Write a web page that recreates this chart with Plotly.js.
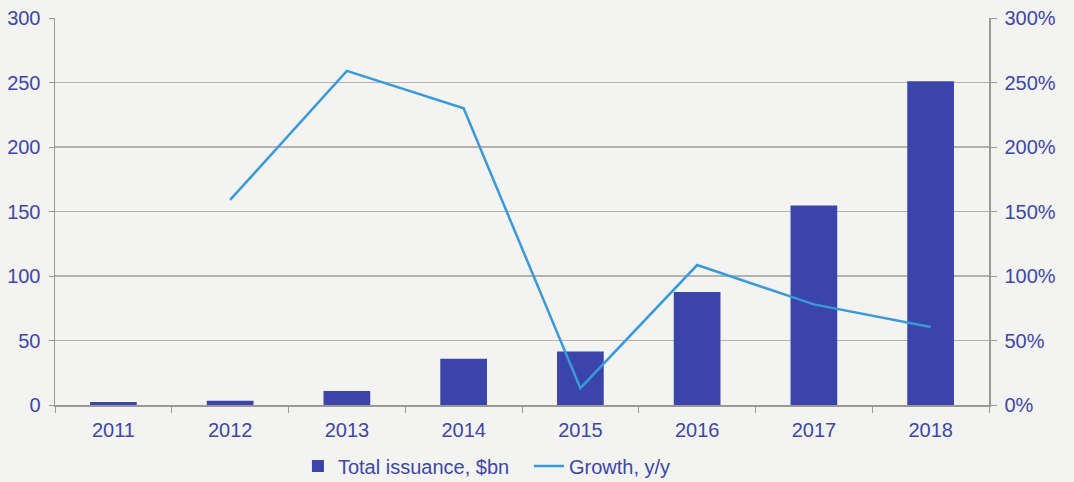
<!DOCTYPE html>
<html><head><meta charset="utf-8">
<script src="https://cdn.plot.ly/plotly-3.0.1.min.js"></script>
<style>body{margin:0;background:#f3f3f1}#c{width:1074px;height:482px}</style>
</head><body><div id="c"></div>
<script>
const years = ['2011','2012','2013','2014','2015','2016','2017','2018'];
const issuance = [2.3, 3.3, 10.9, 35.9, 41.5, 87.6, 154.6, 251];
const growth = [null, 159, 259, 230, 13, 108.5, 78, 60.5];
const yTicks = [0, 50, 100, 150, 200, 250, 300];
const y2Ticks = [0, 50, 100, 150, 200, 250, 300];
const y2Labels = y2Ticks.map(v => v + '%');

const txt = '#3d47a8', grid = '#b5b1ad', axis = '#9c9894';
const data = [
  {type:'bar', x:years, y:issuance, name:'Total issuance, $bn', marker:{color:'#3b44aa'}, width:0.4, hoverinfo:'y'},
  {type:'scatter', mode:'lines', x:years, y:growth, name:'Growth, y/y', yaxis:'y2', line:{color:'#3a9ad9', width:2.5}, connectgaps:false}
];
const layout = {
  width:1074, height:482,
  paper_bgcolor:'#f3f3f1', plot_bgcolor:'#f3f3f1',
  margin:{l:55, r:85, t:18, b:77, autoexpand:false},
  font:{family:'Liberation Sans, Arial, sans-serif', size:20, color:txt},
  showlegend:true,
  legend:{orientation:'h', x:0.4925, xanchor:'center', xref:'container', y:0.033, yref:'container', yanchor:'middle', entrywidth:186, font:{size:20, color:txt}, tracegroupgap:0, bgcolor:'rgba(0,0,0,0)'},
  xaxis:{type:'category', showgrid:false, showline:true, linecolor:axis, linewidth:1.5, ticks:'outside', tickson:'boundaries', ticklen:6, tickcolor:axis, tickfont:{size:20, color:txt}, zeroline:false, ticklabelstandoff:6},
  yaxis:{range:[0,300], tickvals:yTicks, showgrid:true, gridcolor:grid, gridwidth:1.5, showline:true, linecolor:axis, linewidth:1.5, ticks:'outside', ticklen:5, tickcolor:axis, tickfont:{size:20, color:txt}, zeroline:false, ticklabelstandoff:4},
  yaxis2:{range:[0,300], overlaying:'y', side:'right', tickvals:y2Ticks, ticktext:y2Labels, showgrid:false, showline:true, linecolor:axis, linewidth:1.5, ticks:'outside', ticklen:6, tickcolor:axis, tickfont:{size:20, color:txt}, zeroline:false, ticklabelstandoff:4}
};
Plotly.newPlot('c', data, layout, {displayModeBar:false, staticPlot:true});
</script></body></html>
